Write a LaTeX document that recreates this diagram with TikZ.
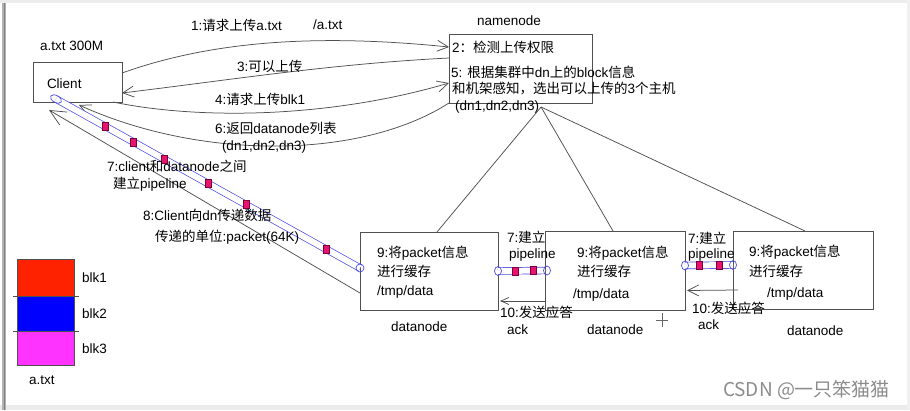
\documentclass[tikz,border=0pt]{standalone}
\usepackage{fontspec}
\setmainfont{Liberation Sans}
\newfontfamily\cjk{Noto Sans CJK SC}
\usetikzlibrary{arrows.meta,calc}
\definecolor{ln}{HTML}{505050}
\definecolor{tube}{HTML}{4A4AE6}
\definecolor{pkfill}{HTML}{E8136E}
\definecolor{pkdraw}{HTML}{7A0035}
\definecolor{cred}{HTML}{FF2200}
\definecolor{cblue}{HTML}{0000FF}
\definecolor{cmag}{HTML}{FF33FF}
\newcommand\zh[1]{{\cjk #1}}
\begin{document}
\begin{tikzpicture}[x=1pt,y=-1pt,
  every node/.style={inner sep=0pt, outer sep=0pt},
  lbl/.style={anchor=west, font=\fontsize{13.5pt}{16pt}\selectfont, text=black},
  box/.style={draw=ln, line width=0.8pt, anchor=north west},
  legbox/.style={draw=ln, line width=0.5pt, anchor=north west, minimum width=57pt},
  conn/.style={draw=ln, line width=0.75pt},
  barb/.style={-{Straight Barb[length=11pt,width=11pt]}},
  bigbarb/.style={-{Straight Barb[length=16pt,width=15pt]}},
  smallbarb/.style={-{Straight Barb[length=8pt,width=7pt]}},
  pipe/.style={draw=tube, line width=0.7pt, double=white, double distance=6pt},
  pk/.style={draw=pkdraw, fill=pkfill, line width=0.5pt, minimum width=6pt, minimum height=8pt},
  endring/.style={draw=tube, line width=0.7pt},
]
\fill[white] (0,0) rectangle (910,410);
\useasboundingbox (0,0) rectangle (910,410);
% screenshot frame
\fill[black!7] (0,0) rectangle (910,3);
\fill[black!8] (0,405) rectangle (910,410);
\fill[black!6] (907,0) rectangle (910,410);
\fill[black!30] (2,3) rectangle (6,410);
\draw[black!50, line width=1pt] (4,3) -- (4,410);

% boxes
\node[box, minimum width=89pt, minimum height=40pt] (client) at (33,62) {};
\node[box, minimum width=143pt, minimum height=69pt] (nn) at (449,34) {};
\node[box, minimum width=138pt, minimum height=78pt] (dn1) at (360,232) {};
\node[box, minimum width=140pt, minimum height=79pt] (dn2) at (545,231) {};
\node[box, minimum width=140pt, minimum height=78pt] (dn3) at (733,231) {};

% legend
\node[legbox, fill=cred, minimum height=37pt] (b1) at (17,259) {};
\node[legbox, fill=cblue, minimum height=35pt] (b2) at (17,296) {};
\node[legbox, fill=cmag, minimum height=34pt] (b3) at (17,331) {};
\draw[ln, line width=0.7pt] ($(b1.south west)+(-4,0)$) -- ($(b1.south east)+(5,0)$);
\draw[ln, line width=0.7pt] ($(b2.south west)+(-4,0)$) -- ($(b2.south east)+(5,0)$);

% client-namenode connectors
\draw[conn,barb] ($(client.north east)+(0,11)$) .. controls (220,38) and (330,35) .. ($(nn.north west)+(0,13)$);
\draw[conn,barb] ($(nn.north west)+(0,24)$) .. controls (330,64) and (230,80) .. ($(client.north east)+(0,31)$);
\draw[conn,barb] ($(client.south east)+(-9,0)$) .. controls (200,120) and (330,118) .. ($(nn.north west)+(0,49)$);
\draw[conn,barb] (nn.south west) .. controls (360,160) and (200,160) .. ($(client.south west)+(46,3)$);

% pipeline tube client -> dn1
\coordinate (tA) at ($(client.south west)+(23,-3)$);
\coordinate (tB) at ($(dn1.west)+(0,-3)$);
\draw[pipe] (tA) -- (tB);
\draw[endring, rotate=-29] (tA) ellipse [x radius=6pt, y radius=3.5pt];
\draw[endring] (tB) circle [radius=4pt];
\node[pk] (pa1) at ($(tA)!0.161!(tB)$) {};
\node[pk] (pa2) at ($(tA)!0.253!(tB)$) {};
\node[pk] (pa3) at ($(tA)!0.355!(tB)$) {};
\node[pk] (pa4) at ($(tA)!0.5!(tB)$) {};
\node[pk] (pa5) at ($(tA)!0.625!(tB)$) {};
\node[pk] (pa6) at ($(tA)!0.888!(tB)$) {};

% arrow 8
\coordinate (c8) at ($(client.south west)+(16,8)$);
\draw[conn,bigbarb] ($(dn1.west)+(0,22)$) -- (c8);

% pipelines between datanodes
\draw[pipe] (dn1.east) -- (dn2.west);
\draw[endring] (dn1.east) ellipse [x radius=3.5pt, y radius=4.5pt];
\draw[endring] ($(dn2.west)+(2,0)$) ellipse [x radius=3.5pt, y radius=4.5pt];
\node[pk] (pb1) at ($(dn1.east)!0.36!(dn2.west)$) {};
\node[pk] (pb2) at ($(dn1.east)!0.745!(dn2.west)$) {};
\coordinate (q1) at ($(dn2.east)+(0,-5)$);
\coordinate (q2) at ($(dn3.west)+(0,-5)$);
\draw[pipe] (q1) -- (q2);
\draw[endring] (q1) ellipse [x radius=3.5pt, y radius=4.5pt];
\draw[endring] (q2) ellipse [x radius=3.5pt, y radius=4.5pt];
\node[pk] (pc1) at ($(q1)!0.29!(q2)$) {};
\node[pk] (pc2) at ($(q1)!0.71!(q2)$) {};

% ack arrows
\draw[conn,smallbarb] ($(dn2.south west)+(0,-9)$) -- ($(dn1.south east)+(2,-9)$);
\draw[conn,barb] ($(dn3.west)+(5,20)$) -- ($(dn2.east)+(2,20)$);

% texts
\node[lbl] (tsize) at (40,46) {a.txt 300M};
\node[lbl] (tclient) at (47,84) {Client};
\node[lbl] (tnn) at (477,21) {namenode};
\node[lbl] (nn2) at (452,47) {2\zh{：检测上传权限}};
\node[lbl] (nn5a) at (451,72) {5: \zh{根据集群中}dn\zh{上的}block\zh{信息}};
\node[lbl] (nn5b) at (452,89) {\zh{和机架感知，选出可以上传的}3\zh{个主机}};
\node[lbl] (nnlist) at (455,107) {(dn1,dn2,dn3)};
\node[lbl] (l1) at (191,25) {1:\zh{请求上传}a.txt};
\node[lbl] (l1b) at (313,25) {/a.txt};
\node[lbl] (l3) at (237,66) {3:\zh{可以上传}};
\node[lbl] (l4) at (215,99) {4:\zh{请求上传}blk1};
\node[lbl] (l6a) at (215,128) {6:\zh{返回}datanode\zh{列表}};
\node[lbl] (l6b) at (222,147) {(dn1,dn2,dn3)};
\node[lbl] (l7a) at (107,166) {7:client\zh{和}datanode\zh{之间}};
\node[lbl] (l7b) at (113,184) {\zh{建立}pipeline};
\node[lbl] (l8a) at (143,215) {8:Client\zh{向}dn\zh{传递数据}};
\node[lbl] (l8b) at (155,237) {\zh{传递的单位}:packet(64K)};

\node[lbl] (d1a) at (377,253) {9:\zh{将}packet\zh{信息}};
\node[lbl] (d1b) at (377,271) {\zh{进行缓存}};
\node[lbl] (d1c) at (377,292) {/tmp/data};
\node[lbl] (d1n) at (391,327) {datanode};
\node[lbl] (d2a) at (577,253) {9:\zh{将}packet\zh{信息}};
\node[lbl] (d2b) at (577,271) {\zh{进行缓存}};
\node[lbl] (d2c) at (573,295) {/tmp/data};
\node[lbl] (d2n) at (587,330) {datanode};
\node[lbl] (d3a) at (749,252) {9:\zh{将}packet\zh{信息}};
\node[lbl] (d3b) at (749,271) {\zh{进行缓存}};
\node[lbl] (d3c) at (767,294) {/tmp/data};
\node[lbl] (d3n) at (787,331) {datanode};

\node[lbl] (p1a) at (507,237) {7:\zh{建立}};
\node[lbl] (p1b) at (509,255) {pipeline};
\node[lbl] (k1a) at (500,312) {10:\zh{发送应答}};
\node[lbl] (k1b) at (507,330) {ack};
\node[lbl] (p2a) at (688,238) {7:\zh{建立}};
\node[lbl] (p2b) at (688,255) {pipeline};
\node[lbl] (k2a) at (692,308) {10:\zh{发送应答}};
\node[lbl] (k2b) at (698,325) {ack};

\node[lbl] (lb1) at (82,278) {blk1};
\node[lbl] (lb2) at (82,314) {blk2};
\node[lbl] (lb3) at (82,349) {blk3};
\node[lbl] (lfile) at (29,380) {a.txt};

% fan lines from namenode list to datanodes
\coordinate (fan) at ($(nnlist.east)+(2,0)$);
\draw[conn] (fan) -- ($(dn1.north west)+(77,0)$);
\draw[conn] (fan) -- ($(dn2.north west)+(68,0)$);
\draw[conn] (fan) -- ($(dn3.north west)+(72,0)$);

% cursor
\draw[black!60, line width=0.6pt] (656,320) -- (668,320) (662,313) -- (662,327);

% watermark
\node[anchor=west, text=black!45, font=\fontsize{19pt}{22pt}\selectfont\cjk] (wm) at (723,390) {CSDN @一只笨猫猫};
\end{tikzpicture}
\end{document}
